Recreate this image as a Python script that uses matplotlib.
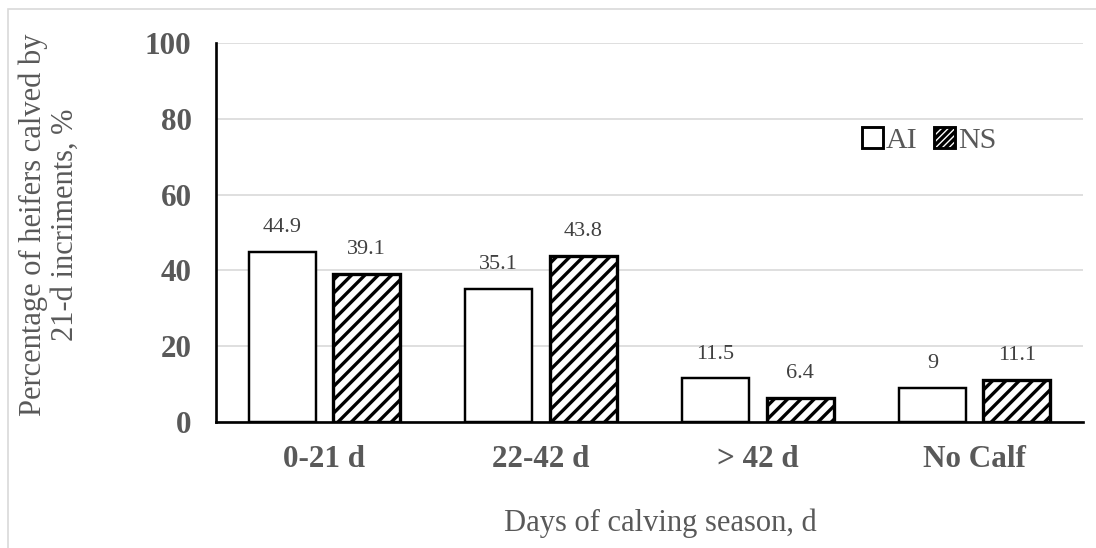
import numpy as np
import matplotlib
matplotlib.use("Agg")
import matplotlib.pyplot as plt
from matplotlib.patches import Patch, Rectangle

# chart data
categories = ['0-21 d', '22-42 d', '> 42 d', 'No Calf']
ai_values = [44.9, 35.1, 11.5, 9]
ns_values = [39.1, 43.8, 6.4, 11.1]
ai_labels = ['44.9', '35.1', '11.5', '9']
ns_labels = ['39.1', '43.8', '6.4', '11.1']
y_ticks = [0, 20, 40, 60, 80, 100]

DPI = 80
W, H = 1096, 548
grey = '#595959'

plt.rcParams['font.family'] = ['Liberation Serif', 'DejaVu Serif']
plt.rcParams['hatch.linewidth'] = 3.0
plt.rcParams['hatch.color'] = 'black'

fig = plt.figure(figsize=(W / DPI, H / DPI), dpi=DPI)
ax = fig.add_axes([216 / W, 1 - 422 / H, (1083 - 216) / W, (422 - 43) / H])

# light chart-area border
fig.patches.append(Rectangle((8 / W, -0.1), 1.2, 1.1 - 9 / H, transform=fig.transFigure,
                             fill=False, edgecolor='#d9d9d9', linewidth=1.5))

x = np.arange(len(categories))
bw = 0.31
off = 0.195
ax.bar(x - off, ai_values, bw, facecolor='white', edgecolor='black', linewidth=2.2, zorder=3)
ax.bar(x + off, ns_values, bw, facecolor='white', edgecolor='black', linewidth=3.0,
       hatch='//', zorder=3)

for xi, v, lab in zip(x - off, ai_values, ai_labels):
    ax.annotate(lab, (xi, v), xytext=(0, 24), textcoords='offset pixels', ha='center',
                va='center', fontsize=20, color='#404040')
for xi, v, lab in zip(x + off, ns_values, ns_labels):
    ax.annotate(lab, (xi, v), xytext=(0, 24), textcoords='offset pixels', ha='center',
                va='center', fontsize=20, color='#404040')

ax.set_xlim(-0.5, len(categories) - 0.5)
ax.set_ylim(0, 100)
ax.set_yticks(y_ticks)
ax.set_yticklabels([str(t) for t in y_ticks], fontsize=28, fontweight='bold', color=grey)
ax.set_xticks(x)
ax.set_xticklabels(categories, fontsize=28, fontweight='bold', color=grey)
ax.tick_params(axis='y', length=0, pad=22)
ax.tick_params(axis='x', length=0, pad=21)

ax.grid(axis='y', color='#d9d9d9', linewidth=1.5, zorder=0)
ax.set_axisbelow(True)
for s in ['top', 'right']:
    ax.spines[s].set_visible(False)
ax.spines['left'].set_linewidth(2.4)
ax.spines['bottom'].set_linewidth(2.4)

fig.text(817 / W, 1 - 523 / H, 'Days of calving season, d', ha='right', va='center',
         fontsize=27.5, color=grey)
fig.text(49 / W, 1 - 225 / H, 'Percentage of heifers calved by\n21-d incriments, %',
         ha='center', va='center', rotation=90, fontsize=27.5, color=grey, linespacing=1.15)

handles = [Patch(facecolor='white', edgecolor='black', linewidth=2.6, label='AI'),
           Patch(facecolor='white', edgecolor='black', linewidth=2.6, hatch='////', label='NS')]
ax.legend(handles=handles, loc='center', bbox_to_anchor=((929 - 216) / (1083 - 216), (422 - 140) / (422 - 43)),
          ncol=2, frameon=False, fontsize=27, handlelength=0.7, handleheight=0.7,
          handletextpad=0.1, columnspacing=0.55, labelcolor=grey, borderpad=0)

fig.savefig('out.png', dpi=DPI)
